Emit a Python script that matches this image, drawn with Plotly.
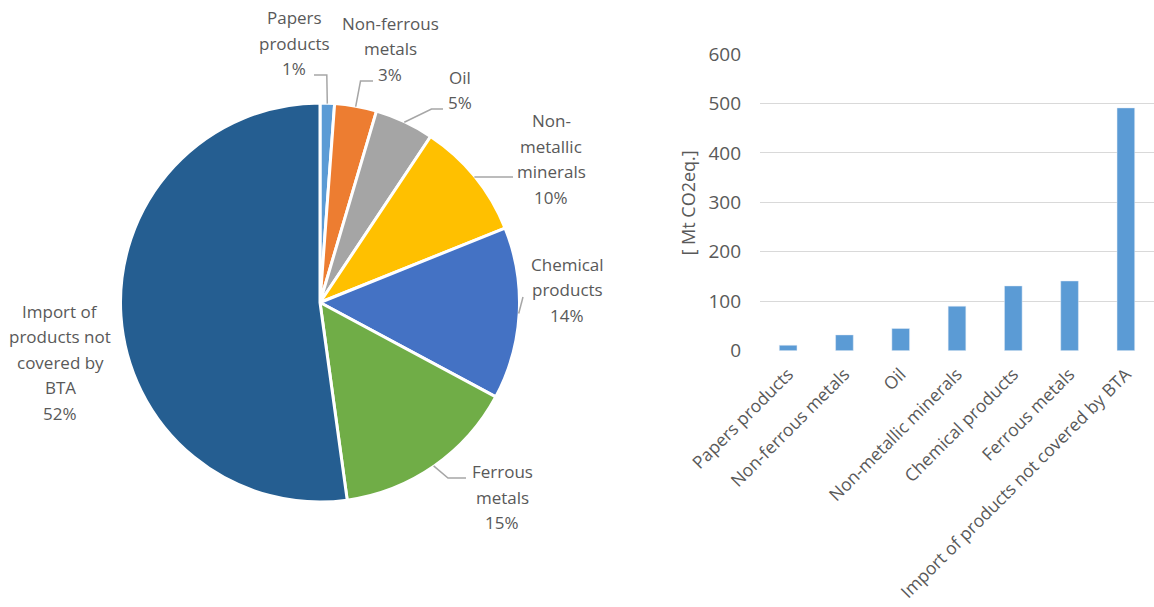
import math
import plotly.graph_objects as go

# ---- data -------------------------------------------------------------
categories = [
    "Papers products",
    "Non-ferrous metals",
    "Oil",
    "Non-metallic minerals",
    "Chemical products",
    "Ferrous metals",
    "Import of products not covered by BTA",
]
emissions = [11, 32, 45, 90, 131, 141, 491]  # Mt CO2eq.

# wrapped names used for the pie labels
pie_label_lines = [
    ["Papers", "products"],
    ["Non-ferrous", "metals"],
    ["Oil"],
    ["Non-", "metallic", "minerals"],
    ["Chemical", "products"],
    ["Ferrous", "metals"],
    ["Import of", "products not", "covered by", "BTA"],
]
slice_colors = ["#5B9BD5", "#ED7D31", "#A5A5A5", "#FFC000", "#4472C4", "#70AD47", "#255E91"]
bar_color = "#5B9BD5"
y_ticks = [0, 100, 200, 300, 400, 500, 600]

# ---- page geometry (pixels) -------------------------------------------
W, H = 1154, 607
FONT = "Open Sans"
TEXT = "#595959"
LEADER = "#A6A6A6"

def px(x):
    return x / W

def py(y):
    return 1 - y / H

# pie placement
CX, CY, R = 320, 302.5, 199.5

# label placement: centre x, first line y, optional elbow, leader end
label_layout = [
    dict(x=294, y=17.5, elbow=(326.8, 75), end=(314, 75)),
    dict(x=390, y=23, elbow=(360.5, 81), end=(373, 81)),
    dict(x=459.5, y=77.5, elbow=(431.5, 109), end=(443, 109)),
    dict(x=551, y=120.5, elbow=None, end=(513, 177)),
    dict(x=567, y=264, elbow=None, end=(523, 297)),
    dict(x=502, y=471.5, elbow=(448, 478), end=(466, 478)),
    dict(x=60, y=311.5, elbow=None, end=None),
]
LINE_STEP = 25.5

fig = go.Figure()

fig.add_trace(go.Pie(
    labels=categories,
    values=emissions,
    sort=False,
    direction="clockwise",
    rotation=0,
    marker=dict(colors=slice_colors, line=dict(color="white", width=3)),
    textinfo="none",
    hoverinfo="label+value+percent",
    showlegend=False,
    automargin=False,
    domain=dict(x=[px(CX - R), px(CX + R)], y=[py(CY + R), py(CY - R)]),
))

fig.add_trace(go.Bar(
    x=categories,
    y=emissions,
    marker=dict(color=bar_color),
    showlegend=False,
    xaxis="x",
    yaxis="y",
))

# ---- pie labels and leader lines ---------------------------------------
total = sum(emissions)
annotations = []
shapes = []
cum = 0.0
for val, lines, lay in zip(emissions, pie_label_lines, label_layout):
    share = val / total
    mid = (cum + share / 2) * 2 * math.pi
    cum += share
    text_lines = lines + [f"{round(share * 100)}%"]
    for i, t in enumerate(text_lines):
        annotations.append(dict(
            x=px(lay["x"]), y=py(lay["y"] + i * LINE_STEP),
            xref="paper", yref="paper", xanchor="center", yanchor="middle",
            text=t, showarrow=False,
            font=dict(family=FONT, size=17, color=TEXT),
        ))
    if lay["end"] is not None:
        sx = CX + (R - 0.5) * math.sin(mid)
        sy = CY - (R - 0.5) * math.cos(mid)
        pts = [(sx, sy)]
        if lay["elbow"] is not None:
            pts.append(lay["elbow"])
        pts.append(lay["end"])
        path = "M " + " L ".join(f"{px(a):.5f},{py(b):.5f}" for a, b in pts)
        shapes.append(dict(type="path", path=path, xref="paper", yref="paper",
                           line=dict(color=LEADER, width=1.5)))

# bar chart y-axis title
annotations.append(dict(
    x=px(688), y=py(203.5), xref="paper", yref="paper",
    xanchor="center", yanchor="middle", textangle=-90,
    text="[ Mt CO2eq.]", showarrow=False,
    font=dict(family=FONT, size=18, color=TEXT),
))

fig.update_layout(
    width=W, height=H, autosize=False,
    margin=dict(l=0, r=0, t=0, b=0, pad=0, autoexpand=False),
    paper_bgcolor="white", plot_bgcolor="white",
    font=dict(family=FONT, color=TEXT),
    bargap=0.686,
    xaxis=dict(
        domain=[px(760), 1.0],
        tickangle=-45,
        automargin=False,
        showline=False, showgrid=False, zeroline=False,
        ticks="", ticklabelstandoff=9,
        tickfont=dict(family=FONT, size=17.5, color=TEXT),
        anchor="y",
    ),
    yaxis=dict(
        domain=[py(350.7), py(54)],
        range=[0, 600],
        tickvals=y_ticks,
        automargin=False,
        showgrid=True, gridcolor="#D9D9D9", gridwidth=1.3,
        zeroline=False, showline=False,
        ticks="", ticklabelstandoff=18,
        tickfont=dict(family=FONT, size=19, color=TEXT),
        anchor="x",
    ),
    annotations=annotations,
    shapes=shapes,
)

fig.write_html("out.html")
